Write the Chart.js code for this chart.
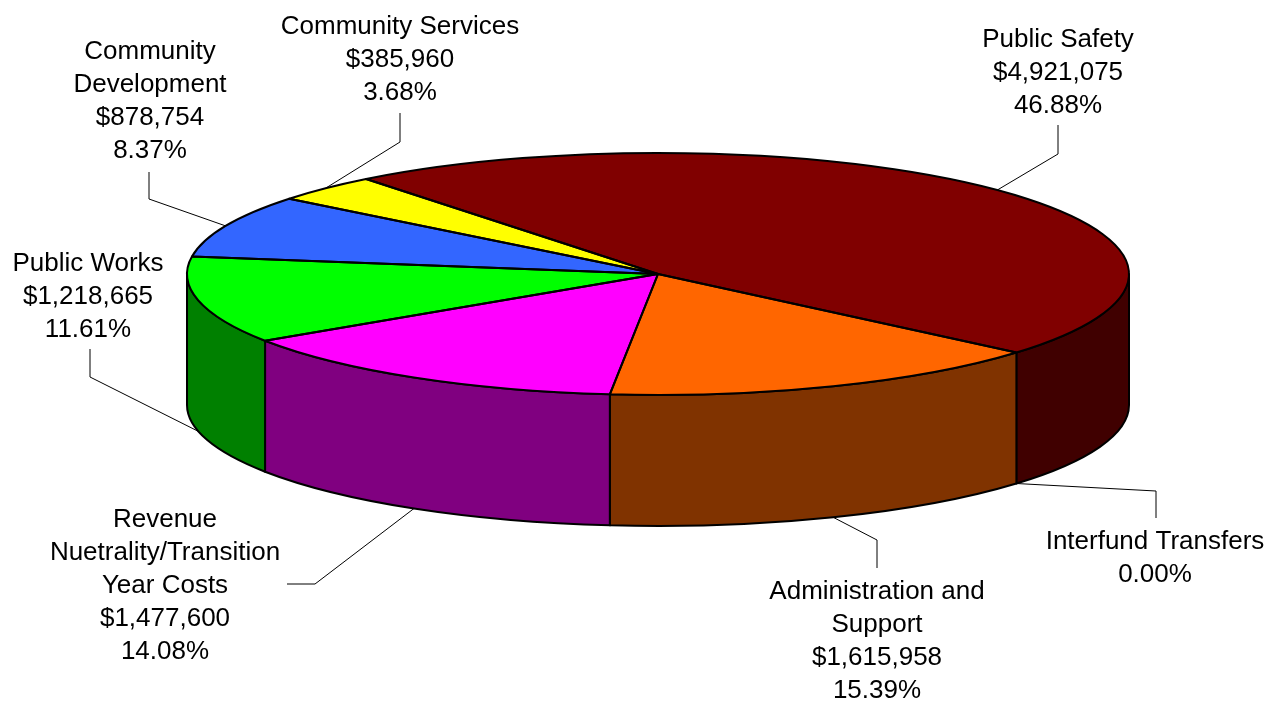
<!DOCTYPE html>
<html>
<head>
<meta charset="utf-8">
<title>Budget by department</title>
<script src="https://cdn.jsdelivr.net/npm/chart.js@4.4.0/dist/chart.umd.min.js"></script>
<style>
  html, body { margin: 0; padding: 0; background: #fff; overflow: hidden; }
  #pie_chart { display: block; }
</style>
</head>
<body>
<canvas id="pie_chart" width="1275" height="709"></canvas>
<script>

// slices, clockwise from Public Safety
var departments = [
  ["Public Safety"],
  ["Interfund Transfers"],
  ["Administration and", "Support"],
  ["Revenue", "Nuetrality/Transition", "Year Costs"],
  ["Public Works"],
  ["Community", "Development"],
  ["Community Services"]
];
var budget = [4921075, 0, 1615958, 1477600, 1218665, 878754, 385960];
var top_colors = ["#800000", "#000080", "#FF6600", "#FF00FF", "#00FF00", "#3366FF", "#FFFF00"];

// label placement: [text x, first line y, elbow x, elbow y, end x, end y]
var label_spots = [
  [1058, 40, 1058, 154, 1058, 125],
  [1155, 542, 1156, 491, 1156, 518],
  [877, 592, 877, 540, 877, 568],
  [165, 520, 315, 584, 287, 584],
  [88, 264, 90, 377, 90, 349],
  [150, 52, 149, 199, 149, 172],
  [400, 27, 400, 142, 400, 113]
];

// the squashed pie: centre, radii and wall depth on screen
var CX = 658, CY = 274, RX = 471, RY = 121, DEPTH = 131;
var FONT = '26px "Liberation Sans", Arial, sans-serif';
var LINE_H = 33;

var total = budget.reduce(function(a, b) { return a + b; }, 0);

function darker(hex) {
  var n = parseInt(hex.slice(1), 16);
  var r = (n >> 16) & 255, g = (n >> 8) & 255, b = n & 255;
  return "rgb(" + Math.round(r / 2) + "," + Math.round(g / 2) + "," + Math.round(b / 2) + ")";
}

function wall(ctx, a, b, color) {
  ctx.beginPath();
  ctx.ellipse(CX, CY, RX, RY, 0, a, b);
  ctx.ellipse(CX, CY + DEPTH, RX, RY, 0, b, a, true);
  ctx.closePath();
  ctx.fillStyle = color;
  ctx.fill();
  ctx.lineWidth = 2;
  ctx.strokeStyle = "#000";
  ctx.lineJoin = "round";
  ctx.stroke();
}

var pie3d = {
  id: 'pie3d',
  beforeDatasetsDraw: function(chart) {
    var ctx = chart.ctx;
    var arcs = chart.getDatasetMeta(0).data;

    // front walls (only the half facing us, angles 0..PI)
    arcs.forEach(function(arc, i) {
      var s = arc.startAngle, e = arc.endAngle;
      for (var k = -1; k <= 1; k++) {
        var lo = Math.max(s, 2 * Math.PI * k);
        var hi = Math.min(e, 2 * Math.PI * k + Math.PI);
        if (hi - lo > 0.0001) {
          wall(ctx, lo, hi, darker(top_colors[i]));
        }
      }
    });

    // squash the library's pie into the top face
    var r = arcs[0].outerRadius;
    ctx.save();
    ctx.translate(CX, CY);
    ctx.scale(RX / r, RY / r);
    ctx.translate(-arcs[0].x, -arcs[0].y);
  },
  afterDatasetsDraw: function(chart) {
    var ctx = chart.ctx;
    ctx.restore();
    var arcs = chart.getDatasetMeta(0).data;

    // slice outlines on the top face
    ctx.save();
    ctx.lineWidth = 2;
    ctx.strokeStyle = "#000";
    ctx.lineJoin = "round";
    arcs.forEach(function(arc) {
      if (arc.endAngle - arc.startAngle < 0.0001) return;
      ctx.beginPath();
      ctx.moveTo(CX, CY);
      ctx.ellipse(CX, CY, RX, RY, 0, arc.startAngle, arc.endAngle);
      ctx.closePath();
      ctx.stroke();
    });
    ctx.restore();

    // leader lines and labels
    ctx.save();
    ctx.font = FONT;
    ctx.fillStyle = "#000";
    ctx.textAlign = "center";
    ctx.textBaseline = "middle";
    arcs.forEach(function(arc, i) {
      var mid = (arc.startAngle + arc.endAngle) / 2;
      var m = ((mid % (2 * Math.PI)) + 2 * Math.PI) % (2 * Math.PI);
      var ax = CX + RX * Math.cos(mid);
      var ay = CY + RY * Math.sin(mid);
      if (m > 0 && m < Math.PI) ay += DEPTH;
      var spot = label_spots[i];

      ctx.beginPath();
      ctx.moveTo(ax, ay);
      ctx.lineTo(spot[2], spot[3]);
      ctx.lineTo(spot[4], spot[5]);
      ctx.lineWidth = 1;
      ctx.strokeStyle = "#000";
      ctx.stroke();

      var lines = departments[i].slice();
      if (budget[i] > 0) lines.push("$" + budget[i].toLocaleString("en-US"));
      lines.push((budget[i] / total * 100).toFixed(2) + "%");
      lines.forEach(function(t, j) {
        ctx.fillText(t, spot[0], spot[1] + j * LINE_H);
      });
    });
    ctx.restore();
  }
};

var ctx = document.getElementById("pie_chart");
var pie_chart = new Chart(ctx, {
  type: 'pie',
  data: {
    labels: departments,
    datasets: [
      {
        data: budget,
        backgroundColor: top_colors,
        borderWidth: 0,
        hoverOffset: 0,
        clip: false
      }
    ]
  },
  options: {
    responsive: false,
    animation: false,
    rotation: -38.3,
    layout: { padding: 0 },
    plugins: {
      legend: { display: false },
      tooltip: { enabled: false }
    }
  },
  plugins: [pie3d]
});

</script>
</body>
</html>
